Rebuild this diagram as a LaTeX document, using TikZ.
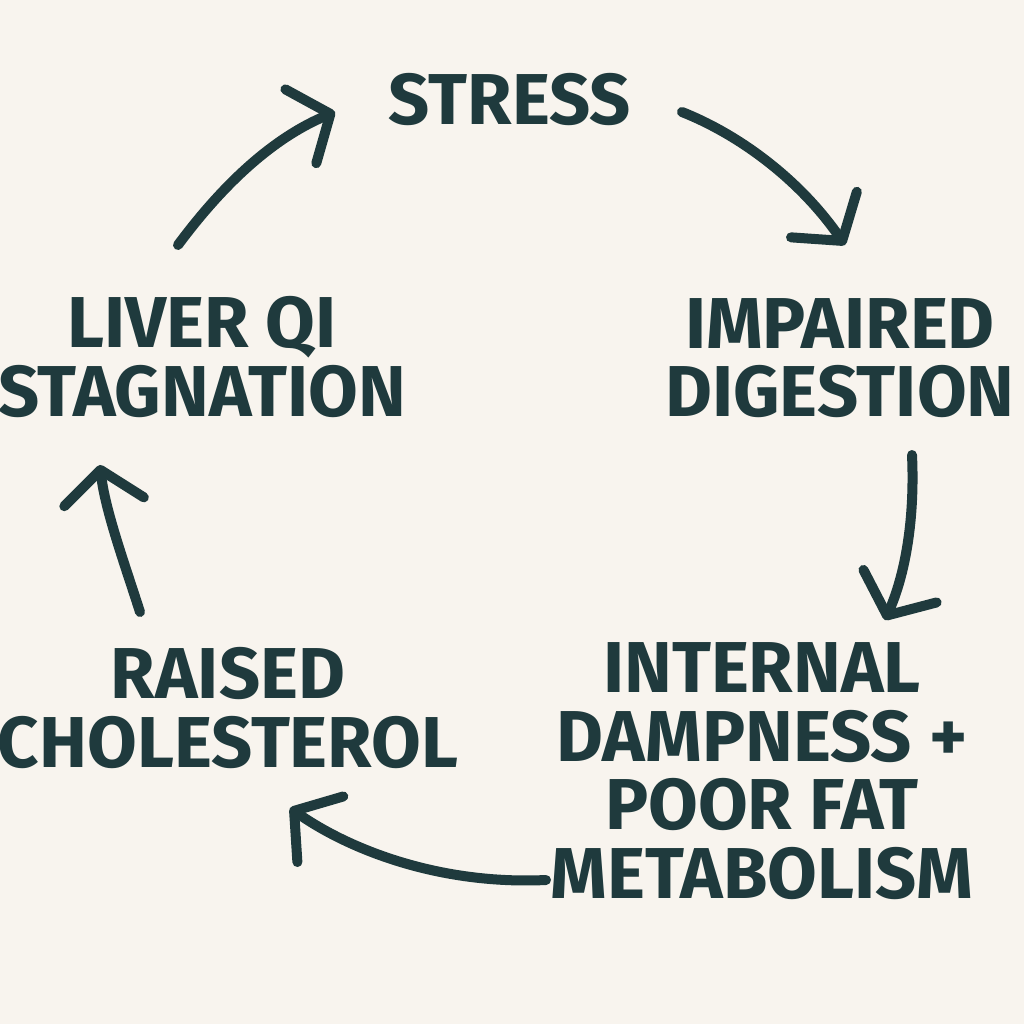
\documentclass[tikz,border=0pt]{standalone}
\usepackage{fontspec}
\setmainfont{Fira Sans}
\usetikzlibrary{arrows.meta}
\definecolor{bg}{HTML}{F8F4EE}
\definecolor{ink}{HTML}{1F3A3D}
\tikzset{
 lbl/.style={text=ink,font=\fontsize{20.5}{19.5}\selectfont\bfseries,align=center,inner sep=0},
 arr/.style={draw=ink,line width=1mm,line cap=round,-{Straight Barb[length=3.2mm,width=8mm,line cap=round,line join=round]}}
}
\begin{document}
\begin{tikzpicture}[x=0.01cm,y=-0.01cm]
\fill[bg] (0,0) rectangle (1024,1024);
\useasboundingbox (0,0) rectangle (1024,1024);
\node[lbl] (s) at (510,100) {STRESS};
\node[lbl] (d) at (840,358) {IMPAIRED\\DIGESTION};
\node[lbl] (l) at (202,357) {LIVER QI\\STAGNATION};
\node[lbl] (r) at (228,708) {RAISED\\CHOLESTEROL};
\node[lbl] (m) at (762,771) {INTERNAL\\DAMPNESS +\\POOR FAT\\METABOLISM};
\coordinate (a1) at (178,245); \coordinate (b1) at (335,112);
\coordinate (a2) at (682,112); \coordinate (b2) at (845,245);
\coordinate (a3) at (912,455); \coordinate (b3) at (885,620);
\coordinate (a4) at (546,880); \coordinate (b4) at (290,808);
\coordinate (a5) at (140,612); \coordinate (b5) at (100,465);
\draw[arr] (a1) .. controls (230,175) and (280,135) .. (b1);
\draw[arr] (a2) .. controls (740,135) and (800,180) .. (b2);
\draw[arr] (a3) .. controls (915,520) and (905,575) .. (b3);
\draw[arr] (a4) .. controls (440,885) and (350,850) .. (b4);
\draw[arr] (a5) .. controls (125,565) and (105,510) .. (b5);
\end{tikzpicture}
\end{document}
